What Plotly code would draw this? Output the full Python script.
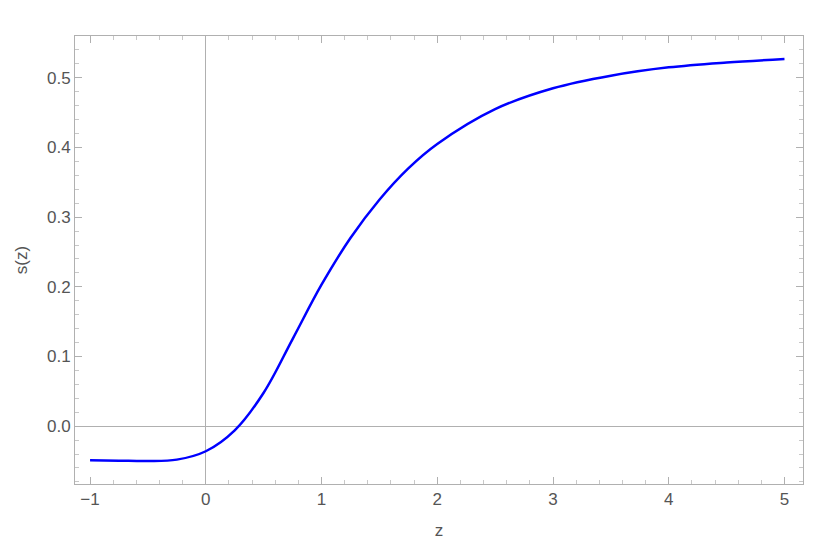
import plotly.graph_objects as go

z = [-1.0, -0.75, -0.5, -0.25, 0.0, 0.25, 0.5, 0.75, 1.0, 1.25, 1.5, 1.75,
     2.0, 2.5, 3.0, 3.5, 4.0, 4.5, 5.0]
s = [-0.049, -0.0495, -0.050, -0.048, -0.036, -0.006, 0.048, 0.125, 0.203,
     0.27, 0.325, 0.37, 0.405, 0.455, 0.485, 0.503, 0.515, 0.522, 0.527]

fig = go.Figure(go.Scatter(x=z, y=s, mode="lines", line=dict(color="#0000ff", width=2.5, shape="spline")))

axis = dict(showline=True, mirror="allticks", linecolor="#b0b0b0", linewidth=1,
            ticks="inside", ticklen=7, tickcolor="#b0b0b0", showgrid=False,
            zeroline=True, zerolinecolor="#b0b0b0", zerolinewidth=1,
            minor=dict(ticks="inside", ticklen=4, tickcolor="#c8c8c8"),
            tickfont=dict(size=17, color="#555"), title_font=dict(size=17, color="#555"))

fig.update_xaxes(axis, range=[-1.13, 5.16], dtick=1, minor_dtick=0.2, title_text="z")
fig.update_yaxes(axis, range=[-0.083, 0.56], dtick=0.1, minor_dtick=0.02, tickformat=".1f", title_text="s(z)")
fig.update_layout(width=830, height=552, plot_bgcolor="white", paper_bgcolor="white",
                  margin=dict(l=65, r=35, t=28, b=76), showlegend=False,
                  font=dict(family="Liberation Sans"))
fig.write_html("out.html")
